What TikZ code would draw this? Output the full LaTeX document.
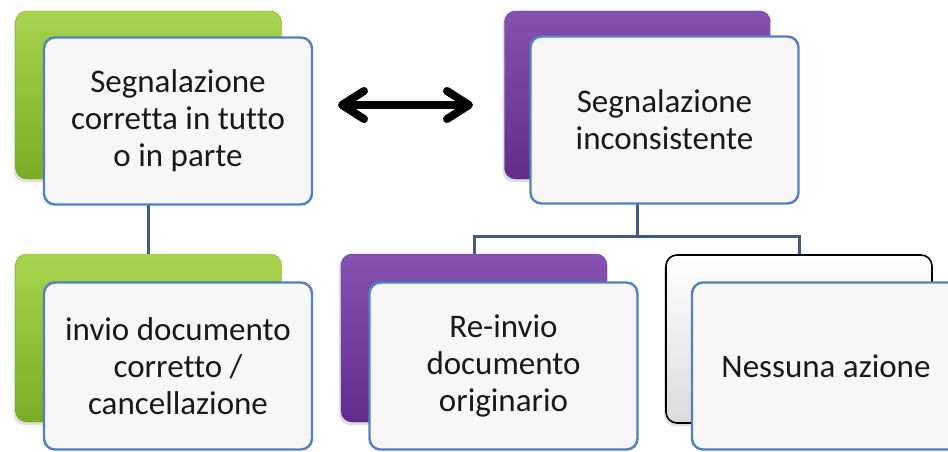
\documentclass[tikz,border=0pt]{standalone}
\usepackage{fontspec}
\setmainfont{Carlito}[Ligatures=NoCommon]
\usetikzlibrary{arrows.meta,shadows}
\definecolor{gtop}{RGB}{168,212,78}
\definecolor{gbot}{RGB}{122,172,38}
\definecolor{ptop}{RGB}{132,82,178}
\definecolor{pbot}{RGB}{98,44,142}
\definecolor{frameblue}{RGB}{79,129,189}
\definecolor{linkblue}{RGB}{62,92,132}
\definecolor{txt}{RGB}{25,25,25}
\begin{document}
\begin{tikzpicture}[x=1pt,y=-1pt,
    back/.style={rounded corners=11pt,minimum width=266pt,minimum height=168pt,
      drop shadow={opacity=0.25,shadow xshift=-2pt,shadow yshift=-3pt}},
    gback/.style={back,draw=gbot,top color=gtop,bottom color=gbot},
    pback/.style={back,draw=pbot,top color=ptop,bottom color=pbot},
    wback/.style={back,draw=black,line width=1.6pt,top color=white,bottom color=black!14},
    front/.style={rounded corners=11pt,draw=frameblue,line width=2.4pt,fill=white!97!black,
      minimum width=268pt,minimum height=167pt,align=center,text=txt,
      font=\fontsize{33}{37}\selectfont},
    link/.style={draw=linkblue,line width=3pt},
    dblarrow/.style={line width=8pt,{Straight Barb[length=22pt,width=28pt,round]}-{Straight Barb[length=22pt,width=28pt,round]}}]
    \useasboundingbox (0,0) rectangle (948,452);
    \clip (0,0) rectangle (948,452);
    \node[gback] (gbackT) at (148.5,95) {};
    \node[pback] (pbackT) at (637.5,95) {};
    \node[gback] (gbackB) at (148.5,338) {};
    \node[pback] (pbackB) at (474,338) {};
    \node[wback] (wbackB) at (799,339) {};
    \coordinate (bus) at (637.5,236);
    \draw[link] (gbackB.north) -- (gbackT.center |- 0,203);
    \draw[link] (bus) -- (pbackT.center |- 0,203);
    \draw[link] (pbackB.north) |- (bus) -| (wbackB.north);
    \node[front] (gfrontT) at (178,121) {Segnalazione\\corretta in tutto\\o in parte};
    \node[front] (pfrontT) at (664.5,120) {Segnalazione\\inconsistente};
    \node[front] (gfrontB) at (178,366) {invio documento\\corretto /\\cancellazione};
    \node[front] (pfrontB) at (503.5,366) {Re-invio\\documento\\originario};
    \node[front] (wfrontB) at (826,366) {Nessuna azione};
    \coordinate (al) at (338,105);
    \coordinate (ar) at (473,105);
    \draw[dblarrow] (al) -- (ar);
\end{tikzpicture}
\end{document}
